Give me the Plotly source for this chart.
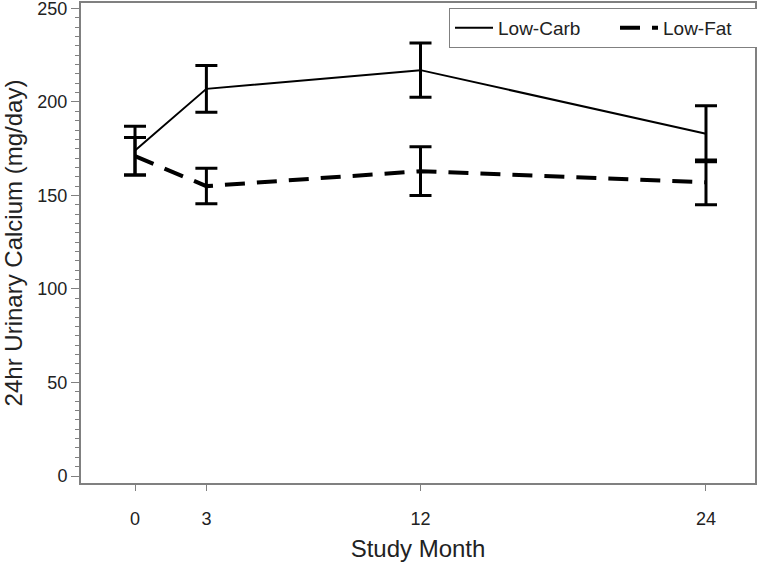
import plotly.graph_objects as go

months = [0, 3, 12, 24]
low_carb = [174, 207, 217, 183]
low_carb_err = [13, 12.5, 14.5, 15]
low_fat = [171, 155, 163, 157]
low_fat_err = [10, 9.5, 13, 12]
x_ticks = [0, 3, 12, 24]
y_ticks = [0, 50, 100, 150, 200, 250]

FONT = "Liberation Sans"

fig = go.Figure()
fig.add_trace(go.Scatter(
    x=months, y=low_carb, mode="lines", name="Low-Carb",
    line=dict(color="black", width=2),
    error_y=dict(type="data", array=low_carb_err, visible=True,
                 color="black", thickness=3, width=11),
))
fig.add_trace(go.Scatter(
    x=months, y=low_fat, mode="lines", name="Low-Fat",
    line=dict(color="black", width=4, dash="20px,12px"),
    error_y=dict(type="data", array=low_fat_err, visible=True,
                 color="black", thickness=3, width=11),
))

fig.update_layout(
    width=757, height=562,
    margin=dict(l=81, r=2, t=3, b=79, autoexpand=False),
    paper_bgcolor="white", plot_bgcolor="white",
    font=dict(family=FONT, color="#222222"),
    showlegend=True,
    legend=dict(orientation="h", x=0.546, xanchor="left", y=0.99, yanchor="top",
                bordercolor="#808080", borderwidth=1, bgcolor="white",
                font=dict(size=19, family=FONT, color="#222222"),
                entrywidth=112, itemwidth=38,
                traceorder="normal"),
)
fig.update_xaxes(
    range=[-2.27, 26.06], tickmode="array", tickvals=x_ticks,
    ticktext=[str(v) for v in x_ticks],
    ticks="outside", ticklen=6, tickwidth=1, tickcolor="#808080",
    ticklabelstandoff=12, automargin=False,
    tickfont=dict(size=18, family=FONT, color="#222222"),
    showline=True, linecolor="#808080", linewidth=2, mirror=True,
    showgrid=False, zeroline=False,
    title=dict(text="Study Month", font=dict(size=24, family=FONT, color="#222222"), standoff=20),
)
fig.update_yaxes(
    range=[-3.74, 252.9], tickmode="array", tickvals=y_ticks,
    ticktext=[str(v) for v in y_ticks],
    ticks="outside", ticklen=8, tickwidth=1, tickcolor="#808080",
    ticklabeloverflow="allow", automargin=False,
    tickfont=dict(size=18, family=FONT, color="#222222"),
    minor=dict(dtick=5, tick0=0, ticks="outside", ticklen=4, tickwidth=1, tickcolor="#808080", showgrid=False),
    showline=True, linecolor="#808080", linewidth=2, mirror=True,
    showgrid=False, zeroline=False,
    title=dict(text="24hr Urinary Calcium (mg/day)", font=dict(size=24, family=FONT, color="#222222"), standoff=10),
)

fig.write_html("out.html", config={"displayModeBar": False},
               post_script="document.body.style.margin='0';")
